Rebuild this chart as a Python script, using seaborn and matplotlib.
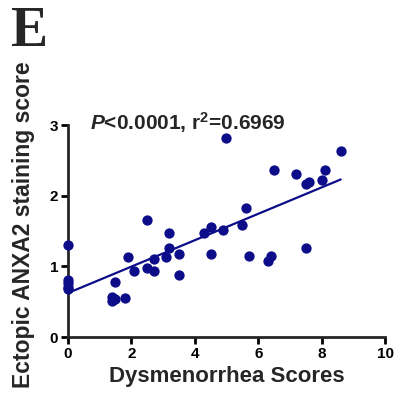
import pandas as pd
import matplotlib.pyplot as plt
import seaborn as sns

# Dysmenorrhea score vs ectopic ANXA2 staining score
dysmenorrhea = [0, 0, 0, 0, 0,
                1.4, 1.4, 1.5, 1.5, 1.8, 1.9, 2.1,
                2.5, 2.5, 2.7, 2.7, 3.1, 3.2, 3.2, 3.5, 3.5,
                4.3, 4.5, 4.5, 4.9, 5.0, 5.5, 5.6, 5.7,
                6.3, 6.4, 6.5, 7.2, 7.5, 7.5, 7.6, 8.0, 8.1, 8.6]
anxa2_score = [1.30, 0.81, 0.76, 0.71, 0.68,
               0.57, 0.51, 0.78, 0.54, 0.55, 1.13, 0.94,
               1.65, 0.98, 1.11, 0.93, 1.13, 1.47, 1.26, 1.18, 0.88,
               1.47, 1.56, 1.18, 1.52, 2.82, 1.58, 1.83, 1.15,
               1.07, 1.15, 2.37, 2.31, 2.16, 1.26, 2.20, 2.23, 2.37, 2.64]

x_ticks = [0, 2, 4, 6, 8, 10]
y_ticks = [0, 1, 2, 3]

NAVY = "#0d0d8a"


def main():
    df = pd.DataFrame({"dysmenorrhea": dysmenorrhea, "anxa2": anxa2_score})

    sns.set_style("ticks")
    plt.rcParams["font.family"] = ["Liberation Sans", "DejaVu Sans"]
    plt.rcParams["mathtext.fontset"] = "custom"
    plt.rcParams["mathtext.rm"] = "Liberation Sans:bold"
    plt.rcParams["mathtext.bf"] = "Liberation Sans:bold"
    plt.rcParams["mathtext.it"] = "Liberation Sans:bold:italic"
    plt.rcParams["mathtext.bfit"] = "Liberation Sans:bold:italic"

    fig = plt.figure(figsize=(3.97, 4.09), dpi=100)
    ax = fig.add_axes([0.171, 0.176, 0.799, 0.518])

    sns.regplot(
        data=df, x="dysmenorrhea", y="anxa2", ci=None, ax=ax,
        color=NAVY,
        scatter_kws={"s": 55, "alpha": 1, "linewidths": 0,
                     "clip_on": False, "zorder": 3},
        line_kws={"linewidth": 1.6},
    )

    ax.set_xlim(0, 10)
    ax.set_ylim(0, 3)
    ax.set_xticks(x_ticks)
    ax.set_yticks(y_ticks)
    for side in ["left", "bottom"]:
        ax.spines[side].set_linewidth(2)
    sns.despine(ax=ax)
    ax.tick_params(width=2, length=5, labelsize=11, colors="black", pad=2)
    for lab in ax.get_xticklabels() + ax.get_yticklabels():
        lab.set_fontweight("bold")

    ax.set_xlabel("Dysmenorrhea Scores", fontsize=16, fontweight="bold", labelpad=4)
    ax.set_ylabel("Ectopic ANXA2 staining score", fontsize=16.5,
                  fontweight="bold", labelpad=3)
    ax.yaxis.set_label_coords(-0.105, 0.53)

    ax.text(0.07, 1.01, r"$\mathit{P}$<0.0001, r$^\mathbf{2}$=0.6969",
            transform=ax.transAxes, fontsize=15, fontweight="bold",
            va="center", ha="left")

    fig.text(0.025, 0.985, "E", fontsize=40, fontweight="bold",
             family=["Liberation Serif", "DejaVu Serif"], va="top", ha="left")

    fig.savefig("out.png", dpi=100)
    plt.close(fig)


if __name__ == "__main__":
    main()
